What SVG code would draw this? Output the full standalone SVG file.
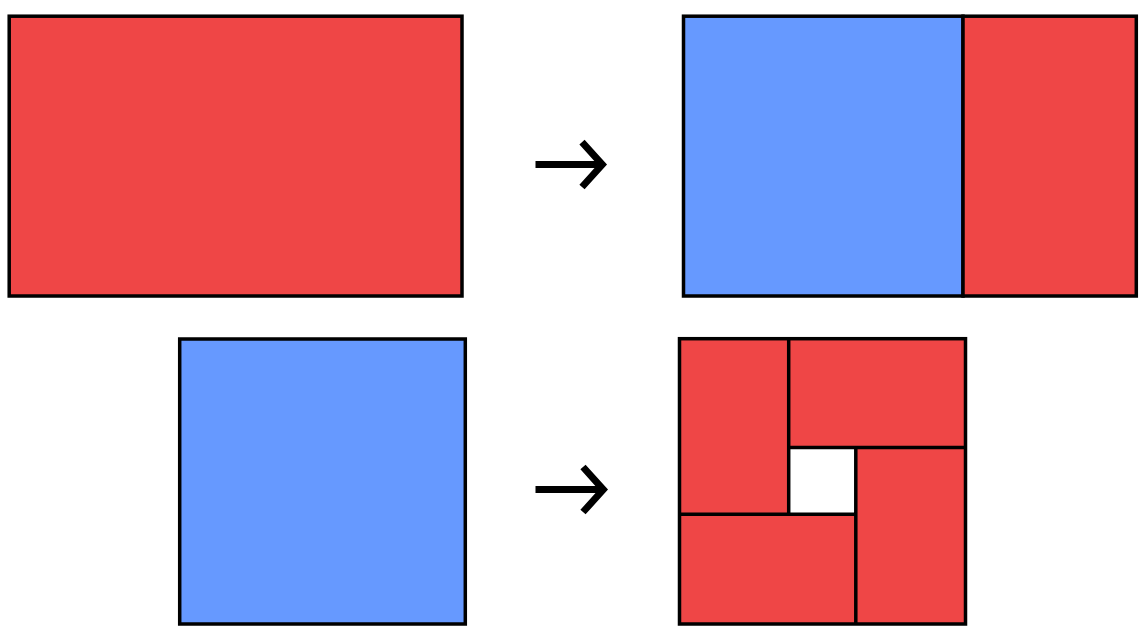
<svg xmlns="http://www.w3.org/2000/svg" width="1148" height="640" viewBox="0 0 1148 640">
  <style>
    .red { fill: #EF4646; stroke: #000; stroke-width: 3.5; }
    .blue { fill: #6699FF; stroke: #000; stroke-width: 3.5; }
    .line { fill: none; stroke: #000; stroke-width: 3.5; }
    .arrow { fill: none; stroke: #000; stroke-width: 7; stroke-linejoin: miter; stroke-miterlimit: 10; }
  </style>
  <rect width="1148" height="640" fill="#fff"/>
  <g id="top-left">
    <rect class="red" x="9.2" y="16.2" width="452.8" height="279.8"/>
  </g>
  <g id="top-right">
    <rect class="blue" x="683.5" y="16.2" width="279.5" height="279.8"/>
    <rect class="red" x="963" y="16.2" width="173.3" height="279.8"/>
  </g>
  <g id="bottom-left">
    <rect class="blue" x="179.7" y="339" width="285.6" height="285"/>
  </g>
  <g id="bottom-right">
    <rect class="red" x="679.5" y="338.7" width="286" height="285.3"/>
    <rect x="788.7" y="447.5" width="67.1" height="66.8" fill="#fff"/>
    <path class="line" d="M788.7,338.7 V514.3 M679.5,514.3 H855.8 M855.8,447.5 V624 M788.7,447.5 H965.5"/>
  </g>
  <g id="connectors">
    <path class="arrow" d="M535.5,164.6 H603 M582,142.2 L602.3,164.6 L582,187"/>
    <path class="arrow" d="M535.5,489.6 H604 M583,467 L603.3,489.6 L583,512"/>
  </g>
</svg>
